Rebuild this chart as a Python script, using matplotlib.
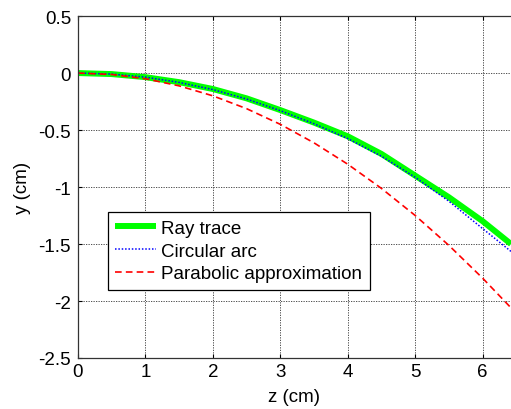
import matplotlib
matplotlib.use("Agg")
import matplotlib.pyplot as plt

plt.rcParams['font.family'] = ['Liberation Sans', 'DejaVu Sans']

z = [0.0, 0.5, 1.0, 1.5, 2.0, 2.5, 3.0, 3.5, 4.0, 4.5, 5.0, 5.5, 6.0, 6.42]
ray_trace = [0.0, -0.009, -0.036, -0.08, -0.14, -0.222, -0.325, -0.435, -0.555,
             -0.71, -0.90, -1.09, -1.30, -1.50]
circular_arc = [0.0, -0.009, -0.036, -0.082, -0.145, -0.228, -0.33, -0.445,
                -0.575, -0.73, -0.915, -1.125, -1.365, -1.565]
parabolic = [0.0, -0.0125, -0.05, -0.1125, -0.2, -0.3125, -0.45, -0.6125,
             -0.8, -1.0125, -1.25, -1.5125, -1.8, -2.06]

x_ticks = [0, 1, 2, 3, 4, 5, 6]
y_ticks = [-2.5, -2, -1.5, -1, -0.5, 0, 0.5]
y_tick_labels = ['-2.5', '-2', '-1.5', '-1', '-0.5', '0', '0.5']

FS = 13.5

fig = plt.figure(figsize=(5.11, 4.10), dpi=100)
ax = fig.add_axes([0.1526, 0.1244, 0.8474, 0.834])

ax.plot(z, ray_trace, color='#00ff00', lw=4.3, label='Ray trace',
        solid_capstyle='butt', solid_joinstyle='round')
ax.plot(z, circular_arc, color='#0000ff', lw=1.1, linestyle=(0, (1, 1.2)),
        label='Circular arc')
ax.plot(z, parabolic, color='#ff0000', lw=1.2, linestyle=(0, (4, 2.5)),
        label='Parabolic approximation')

ax.set_xlim(0, 6.42)
ax.set_ylim(-2.5, 0.5)
ax.set_xticks(x_ticks)
ax.set_yticks(y_ticks)
ax.set_yticklabels(y_tick_labels)

ax.grid(True, color='#333333', linestyle=(0, (1.5, 1.5)), linewidth=0.6)
ax.tick_params(direction='in', length=3, width=0.8, labelsize=FS, top=True,
               colors='black')
ax.tick_params(axis='x', pad=3.5)
ax.tick_params(axis='y', pad=5)
for side in ['left', 'bottom', 'top']:
    ax.spines[side].set_color('#333333')
    ax.spines[side].set_linewidth(0.9)
ax.spines['right'].set_visible(False)

ax.set_xlabel('z (cm)', fontsize=FS, labelpad=6)
ax.set_ylabel('y (cm)', fontsize=FS, labelpad=5)

leg = ax.legend(loc='lower left', bbox_to_anchor=(0.069, 0.199), fontsize=FS,
                handlelength=2.15, handletextpad=0.3, borderpad=0.4,
                labelspacing=0.3, fancybox=False, framealpha=1,
                borderaxespad=0)
leg.get_frame().set_edgecolor('black')
leg.get_frame().set_linewidth(0.9)

fig.savefig('out.png', dpi=100)
